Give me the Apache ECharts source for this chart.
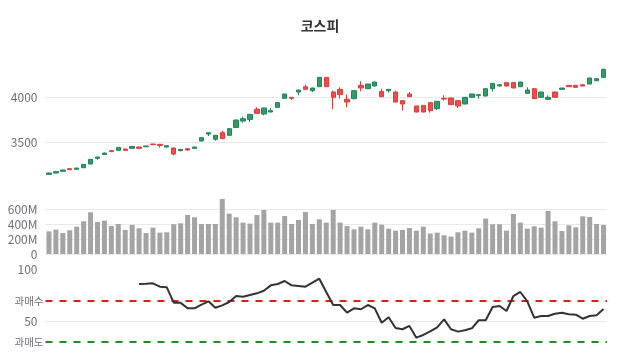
<!DOCTYPE html>
<html><head><meta charset="utf-8">
<script src="https://cdn.jsdelivr.net/npm/echarts@6/dist/echarts.min.js"></script>
<style>html,body{margin:0;padding:0;background:#fff}#c{width:640px;height:360px}</style>
</head><body><div id="c"></div>
<script>
const title = '코스피';
// candles: [open, close, low, high]
const ohlc = [
[3148,3163,3143,3166],[3163,3178,3160,3182],[3182,3196,3178,3200],[3211,3200,3196,3215],[3204,3218,3200,3222],
[3222,3259,3218,3263],[3263,3315,3259,3318],[3326,3341,3311,3345],[3370,3385,3367,3389],[3411,3400,3396,3415],
[3415,3448,3411,3452],[3430,3415,3411,3433],[3437,3459,3433,3463],[3452,3437,3433,3455],[3455,3463,3452,3467],
[3485,3478,3474,3489],[3482,3470,3445,3485],[3452,3467,3448,3470],[3441,3374,3360,3445],[3411,3426,3407,3430],
[3433,3418,3415,3437],[3437,3452,3433,3455],[3519,3556,3515,3559],[3596,3611,3574,3615],[3537,3582,3522,3585],
[3611,3545,3541,3633],[3582,3656,3578,3660],[3670,3752,3667,3756],[3741,3767,3722,3789],[3759,3815,3730,3819],
[3871,3826,3822,3893],[3819,3885,3804,3889],[3841,3856,3837,3885],[3893,3945,3889,3948],[3993,4041,3989,4044],
[4004,3993,3974,4008],[4063,4085,4026,4089],[4122,4093,4089,4145],[4078,4107,4063,4111],[4122,4226,4119,4230],
[4226,4122,4119,4230],[4063,4004,3871,4078],[4093,4034,3989,4115],[3982,3952,3893,4034],[3989,4078,3982,4085],
[4137,4108,4071,4182],[4100,4152,4096,4156],[4130,4174,4126,4178],[4070,4011,4008,4100],[4078,4093,4056,4096],
[4063,3952,3948,4078],[3967,3930,3856,3971],[4041,4011,4008,4063],[3908,3841,3837,3911],[3915,3841,3837,3919],
[3945,3856,3834,3948],[3878,3960,3863,3963],[3993,3985,3967,4026],[3997,3923,3919,4000],[3967,3908,3885,3971],
[3930,4004,3926,4008],[4004,4041,4000,4044],[4026,4034,3989,4037],[4019,4100,4015,4104],[4100,4159,4070,4163],
[4130,4144,4126,4148],[4167,4130,4126,4170],[4167,4108,4104,4170],[4122,4174,4119,4178],[4048,4085,4044,4115],
[4100,3989,3985,4104],[4004,4063,4000,4067],[3982,4004,3978,4026],[4063,4004,4000,4067],[4093,4107,4089,4111],
[4137,4122,4119,4141],[4137,4115,4111,4141],[4144,4130,4126,4148],[4152,4219,4148,4222],[4189,4211,4185,4215],
[4226,4315,4222,4322]
];
// volume in millions
const volume = [304,327,282,318,367,439,560,430,448,376,403,322,390,345,282,354,287,291,399,412,
524,493,403,403,403,739,542,493,421,408,524,591,421,421,510,403,457,564,403,466,
421,591,421,376,331,367,331,421,394,340,313,322,349,313,367,275,287,251,233,291,
313,287,345,475,399,399,313,537,421,340,372,354,578,439,309,385,358,506,497,403,390];
// RSI (first 13 empty)
const rsi = [null,null,null,null,null,null,null,null,null,null,null,null,null,
86.0,86.3,86.7,83.4,82.8,68.0,67.8,62.5,62.5,66.0,69.3,63.1,65.4,68.6,74.4,73.7,75.4,
77.0,79.5,84.7,86.0,88.9,84.7,84.1,83.4,87.3,91.1,78.3,65.7,65.7,58.3,62.5,61.6,65.7,
62.5,48.6,53.9,43.5,42.3,45.5,34.2,36.8,40.3,44.2,51.9,42.3,40.0,41.3,43.2,51.0,51.0,
63.8,64.8,59.9,74.4,78.3,69.3,53.5,55.1,55.1,57.3,58.3,56.8,56.4,52.5,55.1,55.8,61.9];
const rsiTicks = [50, 100];
const overbought = 70, oversold = 30;
const obLabel = '과매수', osLabel = '과매도';
const cats = ohlc.map((d, i) => String(i + 1));

const gray = '#6e7079';
const font = "'Noto Sans CJK KR','Noto Sans',sans-serif";
const split = {show: true, lineStyle: {color: '#e9e9e9'}, showMinLine: false, showMaxLine: false};
const hiddenX = (gi) => ({type: 'category', gridIndex: gi, data: cats, boundaryGap: true,
  axisLine: {show: false}, axisTick: {show: false}, axisLabel: {show: false}, splitLine: {show: false}});

const chart = echarts.init(document.getElementById('c'), null, {renderer: 'canvas'});
chart.setOption({
  animation: false,
  textStyle: {fontFamily: font},
  title: {text: title, left: 'center', top: 14, textStyle: {fontSize: 14, fontWeight: 'bold', color: '#333', fontFamily: font}},
  grid: [
    {left: 45.5, right: 33, top: 52.7, height: 135},
    {left: 45.5, right: 33, top: 194.4, height: 59.6},
    {left: 45.5, right: 33, top: 269.5, height: 72.5}
  ],
  xAxis: [hiddenX(0), hiddenX(1), hiddenX(2)],
  yAxis: [
    {type: 'value', gridIndex: 0, min: 3000, max: 4500, interval: 500,
     axisLine: {show: false}, axisTick: {show: false},
     axisLabel: {color: gray, fontSize: 12, showMinLabel: false, showMaxLabel: false, formatter: v => String(v)}, splitLine: split},
    {type: 'value', gridIndex: 1, min: 0, max: 800, interval: 200,
     axisLine: {show: false}, axisTick: {show: false},
     axisLabel: {color: gray, fontSize: 12, showMaxLabel: false, formatter: v => v === 0 ? '0' : v + 'M'},
     splitLine: {show: true, lineStyle: {color: '#e9e9e9'}, showMinLine: true, showMaxLine: false}},
    {type: 'value', gridIndex: 2, min: 30, max: 100, interval: 10,
     axisLine: {show: false}, axisTick: {show: false},
     axisLabel: {color: gray, fontSize: 12, formatter: v => rsiTicks.indexOf(v) >= 0 ? String(v) : ''},
     splitLine: {show: false}}
  ],
  series: [
    {type: 'candlestick', xAxisIndex: 0, yAxisIndex: 0, data: ohlc, barWidth: '70%',
     itemStyle: {color: '#2e9b69', color0: '#f04a4a', borderColor: '#23865a', borderColor0: '#e53b3b', borderWidth: 1}},
    {type: 'bar', xAxisIndex: 1, yAxisIndex: 1, data: volume, barWidth: '72%',
     itemStyle: {color: '#a4a4a4'}},
    {type: 'line', xAxisIndex: 2, yAxisIndex: 2, data: rsi, showSymbol: false, symbol: 'none', z: 5,
     lineStyle: {color: '#333', width: 2},
     markLine: {symbol: 'none', silent: true, animation: false,
       data: [
         {yAxis: rsiTicks[0], lineStyle: {color: '#e9e9e9', type: 'solid', width: 1}, label: {show: false}},
         {yAxis: overbought, lineStyle: {color: '#e31a1c', type: [7, 7], width: 2},
          label: {formatter: obLabel}},
         {yAxis: oversold, lineStyle: {color: '#238b23', type: [7, 7], width: 2},
          label: {formatter: osLabel}}
       ],
       label: {position: 'start', distance: 2, color: gray, fontSize: 10.5, fontFamily: font}}}
  ]
});
</script></body></html>
